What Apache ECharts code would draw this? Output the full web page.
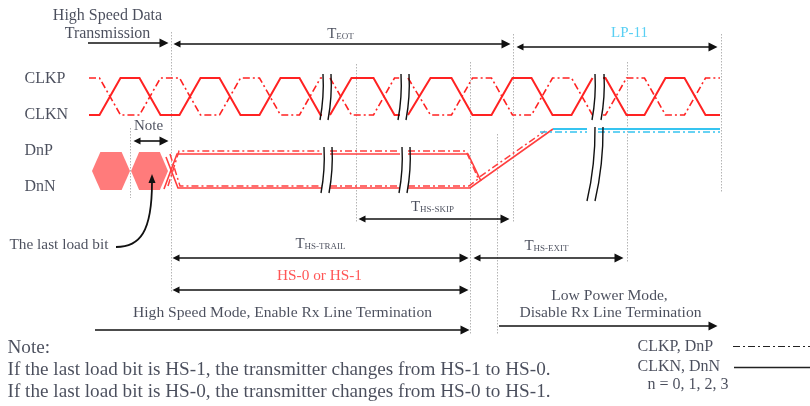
<!DOCTYPE html>
<html><head><meta charset="utf-8">
<script src="https://cdn.jsdelivr.net/npm/echarts@6/dist/echarts.min.js"></script>
<style>html,body{margin:0;padding:0;background:#fff}#c{width:810px;height:406px}</style>
</head><body><div id="c"></div>
<script>
// ================= DATA (x = time position, y = signal level, in diagram units) =================
const CLK_HIGH = 78, CLK_LOW = 115, EDGE = 21;
const clkSegStart = [89, 330, 408, 603];
const clkSegEnd   = [322, 400, 593, 720];
const clkSegInit  = [0, 0, 0, 1];          // CLKN level at start of each segment (1 = high)
const clkEdges = [[110,150,190,230,270,310],[341,384],[420,462,502,542,582],[616,655,695]];

const dnSolidHigh = [[164,189],[177,154],[468,154],[481,181]];
const dnSolidLow  = [[166,157],[178,188],[470,188],[553,129]];
const dnDashHigh  = [[168,186],[179,151],[466,151],[478,178],[545,131]];
const dnDashLow   = [[170,154],[180,186],[469,186],[478,179]];
const lp11Solid   = [[553,129],[720,129]];
const lp11Dash    = [[540,132],[720,132]];
const dataGaps = [[322,330],[400,408]];
const lpGaps   = [[587,598]];

const hexagons = [[92,130,152,190],[131,168,152,190]];   // xLeft, xRight, yTop, yBottom

const breakMarks = [
  [[323,74],[320,120]], [[331,74],[328,120]],
  [[401,74],[398,120]], [[409,74],[406,120]],
  [[595,74],[592,120]], [[604,74],[601,120]],
  [[324,147],[321,193]], [[332,147],[329,193]],
  [[402,147],[399,193]], [[410,147],[407,193]],
  [[595,127],[587,201]], [[603,127],[595,201]]
];

const guideX   = [130, 171, 356, 470, 497, 513, 627, 721];
const guideTop = [128,  32,  64,  62, 134,  34,  62,  34];
const guideBot = [198, 292, 222, 334, 334, 222, 262, 192];

const arrowsBoth = [
  [[173,44],[510,44]], [[516,47],[717,47]], [[133,141],[168,141]],
  [[358,219],[509,219]], [[172,258],[468,258]], [[473,258],[623,258]],
  [[172,290],[468,290]]
];
const arrowsEnd = [ [[88,43],[168,43]], [[95,330],[469,330]], [[499,326],[717,326]] ];
const loadBitCurve = [[116,247,140,247,152,232,152,182]];

const legendDash  = [[733,346],[810,346]];
const legendSolid = [[734,367],[810,367]];

// [x, y, text, align, fontSize, colorKey]
const texts = [
  [108,16,'High Speed Data','center',16,'t'],
  [108,34,'Transmission','center',16,'t'],
  [341,33,'{t|T}{s|EOT}','center',15,'t'],
  [630,34,'LP-11','center',15,'c'],
  [25,79,'CLKP','left',16,'t'],
  [25,115,'CLKN','left',16,'t'],
  [25,151,'DnP','left',16,'t'],
  [25,187,'DnN','left',16,'t'],
  [149,127,'Note','center',15,'t'],
  [10,245,'The last load bit','left',15.3,'t'],
  [433,206,'{t|T}{s|HS-SKIP}','center',15,'t'],
  [321,243,'{t|T}{s|HS-TRAIL}','center',15,'t'],
  [547,245,'{t|T}{s|HS-EXIT}','center',15,'t'],
  [320,276,'HS-0 or HS-1','center',15.3,'r'],
  [283,313,'High Speed Mode, Enable Rx Line Termination','center',15.6,'t'],
  [610,296,'Low Power Mode,','center',15.6,'t'],
  [611,313,'Disable Rx Line Termination','center',15.6,'t'],
  [8,348,'Note:','left',19.2,'t'],
  [8,370,'If the last load bit is HS-1, the transmitter changes from HS-1 to HS-0.','left',19.2,'t'],
  [8,392,'If the last load bit is HS-0, the transmitter changes from HS-0 to HS-1.','left',19.2,'t'],
  [638,347,'CLKP, DnP','left',16,'t'],
  [638,367,'CLKN, DnN','left',16,'t'],
  [648,385,'n = 0, 1, 2, 3','left',16,'t']
];

// ================= STYLE =================
const FONT = 'Liberation Serif';
const COL = { t:'#1d2233', c:'#2ec3f0', r:'#ff2a2a' };
const RED = '#ff2222', RED2 = '#ff3f3f', CYAN = '#36c4f0';
const DASHDOT = [7,3,2,3];

function buildClock(invert){
  const out = [];
  for (let s = 0; s < clkSegStart.length; s++){
    let lv = invert ? 1 - clkSegInit[s] : clkSegInit[s];
    const yOf = l => l ? CLK_HIGH : CLK_LOW;
    const pts = [[clkSegStart[s], yOf(lv)]];
    for (const e of clkEdges[s]){
      pts.push([Math.max(clkSegStart[s], e - EDGE/2), yOf(lv)]);
      lv = 1 - lv;
      pts.push([Math.min(clkSegEnd[s], e + EDGE/2), yOf(lv)]);
    }
    pts.push([clkSegEnd[s], yOf(lv)]);
    out.push(pts);
  }
  return out;
}
function splitAtGaps(pts, gaps){
  const out = []; let cur = [pts[0]];
  for (let i = 1; i < pts.length; i++){
    let a = pts[i-1]; const b = pts[i];
    for (const [g0,g1] of gaps){
      if (a[0] < g0 && b[0] > g1){
        const f = x => a[1] + (b[1]-a[1]) * (x - a[0]) / (b[0]-a[0]);
        cur.push([g0, f(g0)]); out.push(cur);
        cur = [[g1, f(g1)]]; a = cur[0];
      }
    }
    cur.push(b);
  }
  out.push(cur);
  return out;
}
function lineSeries(pts, color, width, type, z){
  return { type:'line', data: pts, symbol:'none', silent:true, animation:false, z: z||3,
           lineStyle:{ color, width, type: type||'solid', cap:'butt', join:'miter' } };
}
function shorten(seg, both){
  const [[x1,y1],[x2,y2]] = seg; const L = Math.hypot(x2-x1,y2-y1), k = 4/L;
  const dx = (x2-x1)*k, dy = (y2-y1)*k;
  return { coords: [[x1 + (both?dx:0), y1 + (both?dy:0)], [x2-dx, y2-dy]] };
}

const series = [];
// guides
series.push({ type:'lines', coordinateSystem:'cartesian2d', silent:true, animation:false, z:1,
  data: guideX.map((x,i) => ({ coords: [[x, guideTop[i]], [x, guideBot[i]]] })),
  lineStyle:{ color:'#b4b4b4', width:1, type:[1.5,1.5], opacity:1 } });
// hexagons
series.push({ type:'custom', silent:true, animation:false, z:2, data: hexagons,
  renderItem(params, api){
    const xl = api.value(0), xr = api.value(1), yt = api.value(2), yb = api.value(3);
    const ym = (yt+yb)/2, ins = (xr-xl)*0.22;
    const pts = [[xl,ym],[xl+ins,yt],[xr-ins,yt],[xr,ym],[xr-ins,yb],[xl+ins,yb]].map(p => api.coord(p));
    return { type:'polygon', shape:{ points: pts }, style:{ fill:'#ff7b7b' } };
  }});
// clock
buildClock(false).forEach(p => series.push(lineSeries(p, RED, 2, 'solid', 4)));
buildClock(true).forEach(p => series.push(lineSeries(p, RED, 1.6, DASHDOT, 4)));
// data lanes
splitAtGaps(dnSolidHigh, dataGaps).forEach(p => series.push(lineSeries(p, RED2, 1.6, 'solid')));
splitAtGaps(dnSolidLow, dataGaps).forEach(p => series.push(lineSeries(p, RED2, 1.6, 'solid')));
splitAtGaps(dnDashHigh, dataGaps).forEach(p => series.push(lineSeries(p, RED2, 1.5, DASHDOT)));
splitAtGaps(dnDashLow, dataGaps).forEach(p => series.push(lineSeries(p, RED2, 1.5, DASHDOT)));
splitAtGaps(lp11Solid, lpGaps).forEach(p => series.push(lineSeries(p, CYAN, 2, 'solid')));
splitAtGaps(lp11Dash, lpGaps).forEach(p => series.push(lineSeries(p, CYAN, 1.6, DASHDOT)));
// break marks
series.push({ type:'lines', coordinateSystem:'cartesian2d', silent:true, animation:false, z:6,
  data: breakMarks.map(c => ({ coords: c })),
  lineStyle:{ color:'#111', width:1.4, curveness:0.06, opacity:1 } });
// arrows
series.push({ type:'lines', coordinateSystem:'cartesian2d', silent:true, animation:false, z:5,
  data: arrowsBoth.map(s => shorten(s, true)), symbol:['triangle','triangle'], symbolSize:[7,9],
  lineStyle:{ color:'#111', width:1.6, opacity:1 }, itemStyle:{ color:'#111' } });
series.push({ type:'lines', coordinateSystem:'cartesian2d', silent:true, animation:false, z:5,
  data: arrowsEnd.map(s => shorten(s, false)), symbol:['none','triangle'], symbolSize:[7,9],
  lineStyle:{ color:'#111', width:1.6, opacity:1 }, itemStyle:{ color:'#111' } });
// legend lines
series.push({ type:'lines', coordinateSystem:'cartesian2d', silent:true, animation:false, z:5,
  data:[{ coords: legendDash }], lineStyle:{ color:'#222', width:1.2, type:DASHDOT, opacity:1 } });
series.push({ type:'lines', coordinateSystem:'cartesian2d', silent:true, animation:false, z:5,
  data:[{ coords: legendSolid }], lineStyle:{ color:'#222', width:1.4, opacity:1 } });
// curved arrow
series.push({ type:'custom', silent:true, animation:false, z:5, data: loadBitCurve,
  renderItem(params, api){
    const p = [0,2,4,6].map(i => api.coord([api.value(i), api.value(i+1)]));
    return { type:'group', children:[
      { type:'bezierCurve', shape:{ x1:p[0][0], y1:p[0][1], cpx1:p[1][0], cpy1:p[1][1], cpx2:p[2][0], cpy2:p[2][1], x2:p[3][0], y2:p[3][1] },
        style:{ stroke:'#111', lineWidth:1.8, fill:null } },
      { type:'polygon', shape:{ points:[[p[3][0], p[3][1]-8],[p[3][0]-3.5, p[3][1]+1],[p[3][0]+3.5, p[3][1]+1]] },
        style:{ fill:'#111' } }
    ]};
  }});
// texts
series.push({ type:'scatter', silent:true, animation:false, z:10, symbolSize:1,
  itemStyle:{ color:'rgba(0,0,0,0)' },
  data: texts.map(t => ({ value:[t[0], t[1]],
    label:{ show:true, position:[0,0], align:t[3], verticalAlign:'middle', formatter:t[2],
      fontFamily:FONT, fontSize:t[4], color:COL[t[5]],
      rich:{ t:{ fontFamily:FONT, fontSize:15, color:COL[t[5]], lineHeight:18, verticalAlign:'bottom' },
             s:{ fontFamily:FONT, fontSize:9, color:COL[t[5]], lineHeight:11, verticalAlign:'bottom' } } } })) });

const chart = echarts.init(document.getElementById('c'));
chart.setOption({
  backgroundColor:'#fff', animation:false,
  grid:{ left:0, right:0, top:0, bottom:0 },
  xAxis:{ type:'value', min:0, max:810, show:false },
  yAxis:{ type:'value', min:0, max:406, inverse:true, show:false },
  series
});
</script></body></html>
